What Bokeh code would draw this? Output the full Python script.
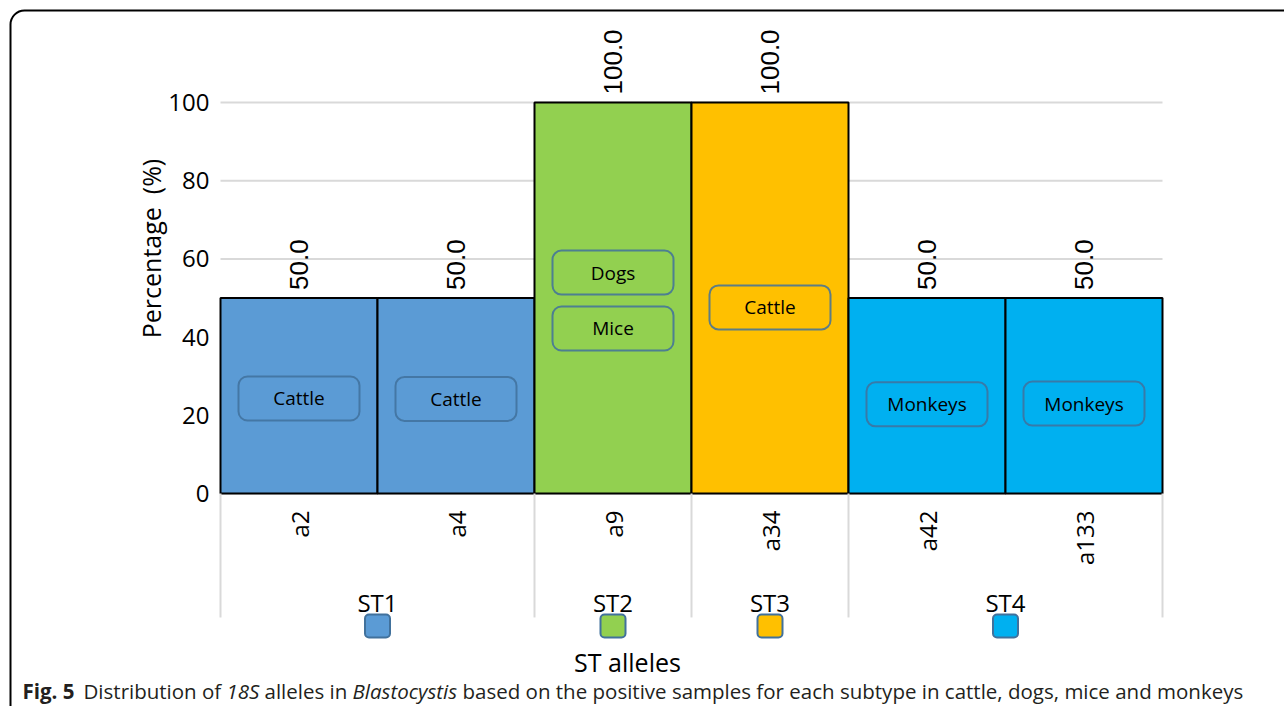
import numpy as np
from math import pi
from bokeh.plotting import figure
from bokeh.models import Range1d, FixedTicker, LinearAxis, BoxAnnotation
from bokeh.embed import file_html
from bokeh.resources import INLINE
from bokeh.core.properties import value

# ---------------- data ----------------
subtypes = ["ST1", "ST1", "ST2", "ST3", "ST4", "ST4"]
alleles = ["a2", "a4", "a9", "a34", "a42", "a133"]
percent = [50.0, 50.0, 100.0, 100.0, 50.0, 50.0]
groups = ["ST1", "ST2", "ST3", "ST4"]
group_colors = ["#5B9BD5", "#92D050", "#FFC000", "#00B0F0"]
y_ticks = [0, 20, 40, 60, 80, 100]

# host tags drawn inside the bars
host_allele = ["a2", "a4", "a9", "a9", "a34", "a42", "a133"]
host_name = ["Cattle", "Cattle", "Dogs", "Mice", "Cattle", "Monkeys", "Monkeys"]
host_y = [24.3, 24.2, 56.5, 42.2, 47.6, 22.8, 23.0]

x_title = "ST alleles"
y_title = "Percentage \u00a0(%)"
cap_parts = ["Fig. 5", "Distribution of", "18S", "alleles in", "Blastocystis",
             "based on the positive samples for each subtype in cattle, dogs, mice and monkeys"]
cap_styles = ["bold", "normal", "italic", "normal", "italic", "normal"]

FONT = "Open Sans"

# ---------------- derived positions (categorical -> numeric slots) ----------------
xs = np.arange(len(alleles)) + 0.5
bar_colors = [group_colors[groups.index(s)] for s in subtypes]
group_x = [float(np.mean([xs[i] for i, s in enumerate(subtypes) if s == g])) for g in groups]
sizes = [subtypes.count(g) for g in groups]
bounds = list(np.concatenate([[0], np.cumsum(sizes)]).astype(float))
host_x = [xs[alleles.index(a)] for a in host_allele]

# ---------------- figure ----------------
W, H = 1284, 706
PX = 157.0          # pixels per category slot
PY = 3.91           # pixels per percent
LEFT, BASE = 220, 493
x_range = Range1d(-LEFT / PX, len(alleles) + (W - LEFT - PX * len(alleles)) / PX)
y_range = Range1d(-(H - BASE) / PY, 100 + (BASE - 100 * PY) / PY)

p = figure(width=W, height=H, x_range=x_range, y_range=y_range,
           output_backend="svg", toolbar_location=None,
           x_axis_location=None, y_axis_location=None,
           min_border_left=0, min_border_right=0, min_border_top=0,
           min_border_bottom=0)
p.outline_line_color = None
p.background_fill_color = "white"
p.border_fill_color = "white"
p.xgrid.visible = False
p.ygrid.visible = False

# y axis drawn at the left edge of the bars
yaxis = LinearAxis(fixed_location=0, ticker=FixedTicker(ticks=y_ticks),
                   bounds=(0, 125.3), axis_label=y_title)
yaxis.axis_line_color = None
yaxis.major_tick_line_color = None
yaxis.minor_tick_line_color = None
yaxis.major_label_standoff = 5
yaxis.major_label_text_font = FONT
yaxis.major_label_text_font_size = "24px"
yaxis.major_label_text_color = "black"
yaxis.axis_label_text_font = FONT
yaxis.axis_label_text_font_size = "25px"
yaxis.axis_label_text_font_style = "normal"
yaxis.axis_label_text_color = "black"
yaxis.axis_label_standoff = -3
p.add_layout(yaxis, "left")

# horizontal grid lines spanning the category area
p.segment(x0=bounds[0], x1=bounds[-1], y0=y_ticks, y1=y_ticks,
          line_color="#d9d9d9", line_width=2)

# bars
p.vbar(x=xs, top=percent, width=1.0, fill_color=bar_colors,
       line_color="black", line_width=2)

# value labels above bars
p.text(x=xs, y=percent, text=[f"{v:.1f}" for v in percent], angle=pi / 2,
       text_align="left", text_baseline="middle", y_offset=-8,
       text_font=value("Liberation Sans"), text_font_size="26px", text_color="black")

# host tags
p.rect(x=host_x, y=host_y, width=121, height=44, width_units="screen",
       height_units="screen", fill_alpha=0, line_color="#41719C", line_alpha=0.85,
       line_width=2, border_radius=9)
p.text(x=host_x, y=host_y, text=host_name, text_align="center",
       text_baseline="middle", text_font=value(FONT), text_font_size="19px",
       text_color="black")

# category separators below the bars
p.segment(x0=bounds, y0=0, x1=bounds, y1=-31.7, line_color="#d9d9d9", line_width=2)

# allele labels (rotated)
p.text(x=xs, y=-4.35, text=alleles, angle=pi / 2, text_align="right",
       text_baseline="middle", text_font=value(FONT), text_font_size="24px",
       text_color="black")

# subtype group labels
p.text(x=group_x, y=-27.9, text=groups, text_align="center", text_baseline="middle",
       text_font=value(FONT), text_font_size="24px", text_color="black")

# legend-like squares
p.rect(x=group_x, y=-33.9, width=25, height=23, width_units="screen",
       height_units="screen", fill_color=group_colors, line_color="#41719C",
       line_width=2, border_radius=4)

# x axis title
p.text(x=[bounds[0]], y=[-43.2], x_offset=407, text=[x_title], text_align="center",
       text_baseline="middle", text_font=value(FONT), text_font_size="25px",
       text_color="black")

# caption (left edges in pixels relative to the bar area's left edge)
cap_left = [22, 83, 226, 264, 352, 462]
for txt, sty, lx in zip(cap_parts, cap_styles, cap_left):
    p.text(x=[bounds[0]], y=[-50.4], x_offset=lx - LEFT, text=[txt], text_align="left",
           text_baseline="middle", text_font=value(FONT), text_font_size="20.5px",
           text_font_style=sty, text_color="#231f20")

# rounded figure frame
p.add_layout(BoxAnnotation(left=10, right=1400, top=10, bottom=800,
                           left_units="canvas", right_units="canvas",
                           top_units="canvas", bottom_units="canvas",
                           fill_alpha=0, line_color="black", line_alpha=1,
                           line_width=2, line_dash="solid", border_radius=14))

open("out.html", "w").write(file_html(p, INLINE))
